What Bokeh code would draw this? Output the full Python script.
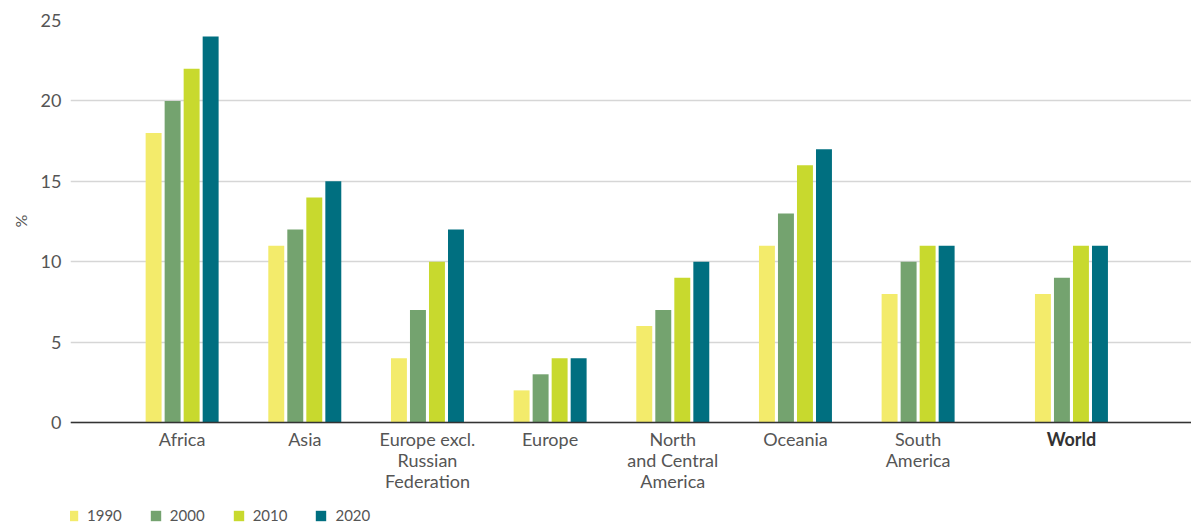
from bokeh.plotting import figure
from bokeh.models import ColumnDataSource, FixedTicker, Legend, LegendItem, Span, Title
from bokeh.core.properties import value
from bokeh.embed import file_html
from bokeh.resources import INLINE

categories = ["Africa", "Asia", "Europe excl.\nRussian\nFederation", "Europe",
              "North\nand Central\nAmerica", "Oceania", "South\nAmerica", "World"]
years = ["1990", "2000", "2010", "2020"]
v1990 = [18, 11, 4, 2, 6, 11, 8, 8]
v2000 = [20, 12, 7, 3, 7, 13, 10, 9]
v2010 = [22, 14, 10, 4, 9, 16, 11, 11]
v2020 = [24, 15, 12, 4, 10, 17, 11, 11]
y_ticks = [0, 5, 10, 15, 20, 25]

colors = ["#F3EB6B", "#74A36F", "#C8D92E", "#006F80"]
series = [v1990, v2000, v2010, v2020]

FONT = "Lato"
TXT = "#555555"

# category centres, with an extra gap before the World group
xpos = [i + (0.25 if c == "World" else 0.0) for i, c in enumerate(categories)]

p = figure(frame_width=1123, frame_height=504, output_backend="svg", toolbar_location=None,
           x_range=(-0.91, 8.245), y_range=(-6.34, 25),
           min_border_top=20, min_border_left=68, min_border_right=0, min_border_bottom=0)
p.outline_line_color = None
p.background_fill_color = "white"

pitch = 0.155
bw = 0.13
items = []
for k, (yr, vals, col) in enumerate(zip(years, series, colors)):
    off = (k - 1.5) * pitch
    src = ColumnDataSource(dict(x=[x + off for x in xpos], top=vals))
    r = p.vbar(x="x", top="top", width=bw, bottom=0, source=src,
               fill_color=col, line_color=None)
    items.append(LegendItem(label=yr, renderers=[r]))

# baseline (x axis line)
p.add_layout(Span(location=0, dimension="width", line_color="#333333", line_width=1.5))

# category labels
main = ColumnDataSource(dict(x=xpos[:-1], y=[-0.32] * (len(xpos) - 1), t=categories[:-1]))
p.text(x="x", y="y", text="t", source=main, text_align="center", text_baseline="top",
       text_font=value(FONT), text_font_size="18px", text_color=TXT, text_line_height=0.97)
world = ColumnDataSource(dict(x=xpos[-1:], y=[-0.32], t=categories[-1:]))
p.text(x="x", y="y", text="t", source=world, text_align="center", text_baseline="top",
       text_font=value(FONT), text_font_size="18px", text_font_style="bold",
       text_color="#333333", text_line_height=0.97)

p.xaxis.visible = False

p.yaxis.ticker = FixedTicker(ticks=y_ticks)
p.yaxis.bounds = (0, 25)
p.yaxis.axis_line_color = None
p.yaxis.major_tick_line_color = None
p.yaxis.minor_tick_line_color = None
p.yaxis.major_label_text_font = FONT
p.yaxis.major_label_text_font_size = "18px"
p.yaxis.major_label_text_color = TXT
p.yaxis.major_label_standoff = 3

# "%" unit label, placed with a left-side title so it can be centred on 0..25
unit = Title(text="%", align="left", offset=297, text_font=FONT, text_font_size="16px",
             text_font_style="normal", text_color=TXT, standoff=16)
p.add_layout(unit, "left")

p.xgrid.grid_line_color = None
p.ygrid.grid_line_color = "#D6D6D6"
p.ygrid.grid_line_width = 1.5

legend = Legend(items=items, orientation="horizontal", location=(-4, 0),
                label_text_font=FONT, label_text_font_size="15px", label_text_color=TXT,
                glyph_width=13, glyph_height=13, label_standoff=8, spacing=27,
                padding=0, margin=0, border_line_color=None, background_fill_alpha=0)
p.add_layout(legend)

open("out.html", "w").write(file_html(p, INLINE))
